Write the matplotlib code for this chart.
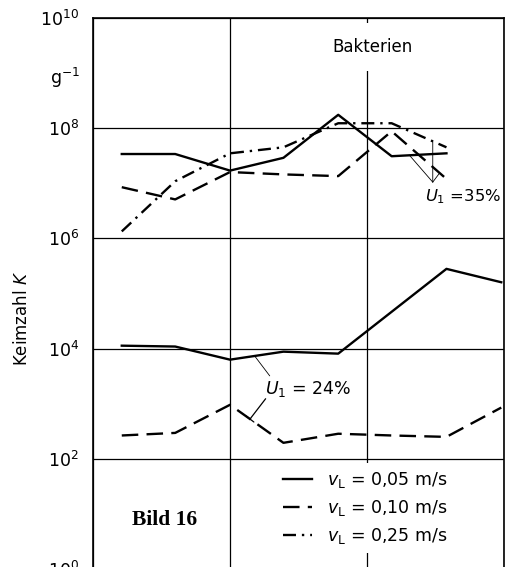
import numpy as np
import matplotlib.pyplot as plt
from matplotlib.ticker import NullLocator


# sampling positions (grid spacing = 1 unit)
x_top = [0.21, 0.60, 1.00, 1.39, 1.79, 2.18, 2.58]
x_low = [0.21, 0.60, 1.00, 1.39, 1.79, 2.18, 2.58, 2.98]
x_low_solid = [0.21, 0.60, 1.00, 1.39, 1.79, 2.58, 2.98]

# Keimzahl K in g^-1, U1 = 35 %
k_005_35 = [3.4e7, 3.4e7, 1.7e7, 2.9e7, 1.75e8, 3.1e7, 3.5e7]
k_010_35 = [8.5e6, 5.1e6, 1.6e7, 1.45e7, 1.35e7, 8.8e7, 1.2e7]
k_025_35 = [1.34e6, 1.09e7, 3.5e7, 4.5e7, 1.23e8, 1.23e8, 4.5e7]

# U1 = 24 %
k_005_24 = [1.13e4, 1.09e4, 6.3e3, 8.8e3, 8.1e3, 2.8e5, 1.6e5]
k_010_24 = [265, 295, 955, 195, 285, 265, 250, 850]

legend_labels = ['$v_\\mathrm{L}$ = 0,05 m/s',
                 '$v_\\mathrm{L}$ = 0,10 m/s',
                 '$v_\\mathrm{L}$ = 0,25 m/s']
ytick_exp = [0, 2, 4, 6, 8, 10]

plt.rcParams['font.family'] = ['DejaVu Sans']
plt.rcParams['mathtext.fontset'] = 'dejavusans'

LW = 1.7
DASH = (7, 3.5)
DASHDOT = (5.5, 2.5, 1, 2.5)


def interp_log(xq, xs, ys):
    return 10 ** np.interp(xq, xs, np.log10(ys))


fig = plt.figure(figsize=(5.05, 5.67), dpi=100)
ax = fig.add_axes([93 / 505, -2 / 567, 411 / 505, 551 / 567])

ax.set_yscale('log')
ax.set_xlim(0, 3)
ax.set_ylim(1, 1e10)
ax.set_yticks([10.0 ** k for k in ytick_exp])
ax.set_yticklabels([f'$10^{{{k}}}$' for k in ytick_exp])
ax.yaxis.set_minor_locator(NullLocator())
ax.set_xticks([0, 1, 2, 3])
ax.set_xticklabels([])
ax.tick_params(length=0, pad=10, labelsize=12.5)
ax.grid(True, color='black', lw=0.9)
ax.set_axisbelow(True)
for s in ax.spines.values():
    s.set_linewidth(1.2)

l1, = ax.plot(x_top, k_005_35, color='black', lw=LW)
l2, = ax.plot(x_top, k_010_35, color='black', lw=LW, dashes=DASH)
l3, = ax.plot(x_top, k_025_35, color='black', lw=LW, dashes=DASHDOT)
ax.plot(x_low_solid, k_005_24, color='black', lw=LW)
ax.plot(x_low, k_010_24, color='black', lw=LW, dashes=DASH)

# axis labels and unit
ax.set_ylabel('Keimzahl $K$', fontsize=12)
ax.yaxis.set_label_coords(-0.151, 0.455)
ax.text(-0.105, 8e8, 'g$^{-1}$', transform=ax.get_yaxis_transform(),
        ha='left', va='center', fontsize=12.5)

ax.text(2.04, 3e9, 'Bakterien', ha='center', va='center', fontsize=12,
        bbox=dict(facecolor='white', edgecolor='none',
                  boxstyle='square,pad=0.9'))

# U1 = 35 % with leaders
leader = dict(arrowstyle='-', lw=0.6, color='black', shrinkA=0, shrinkB=0)
ax.text(2.42, 5.8e6, '$U_1$ =35%', ha='left', va='center', fontsize=11.8)
src35 = (2.48, 1.05e7)
for xq, xs, ys in [(2.31, x_top, k_005_35), (2.48, x_top, k_025_35),
                   (2.53, x_top, k_010_35)]:
    ax.annotate('', xy=(xq, interp_log(xq, xs, ys)), xytext=src35,
                arrowprops=leader)

# U1 = 24 % with leaders
ax.text(1.255, 1.86e3, '$U_1$ = 24%', ha='left', va='center', fontsize=12.5)
ax.annotate('', xy=(1.18, interp_log(1.18, x_low_solid, k_005_24)),
            xytext=(1.29, 3.2e3), arrowprops=leader)
ax.annotate('', xy=(1.146, interp_log(1.146, x_low, k_010_24)),
            xytext=(1.26, 1.23e3),
            arrowprops=dict(arrowstyle='-[, widthB=0.35, lengthB=0',
                            lw=0.9, color='black', shrinkA=0, shrinkB=0))

leg = ax.legend([l1, l2, l3], legend_labels, loc='upper left',
                bbox_to_anchor=(0.445, 0.192), frameon=True, fancybox=False,
                edgecolor='none', facecolor='white', framealpha=1,
                fontsize=12.5, handlelength=1.7, handletextpad=0.85,
                labelspacing=0.45, borderpad=0.4, borderaxespad=0)

ax.text(0.175, 0.089, 'Bild 16', transform=ax.transAxes, ha='center',
        va='center', fontsize=15.5, fontweight='bold',
        family='Liberation Serif')

fig.savefig('out.png', dpi=100)
